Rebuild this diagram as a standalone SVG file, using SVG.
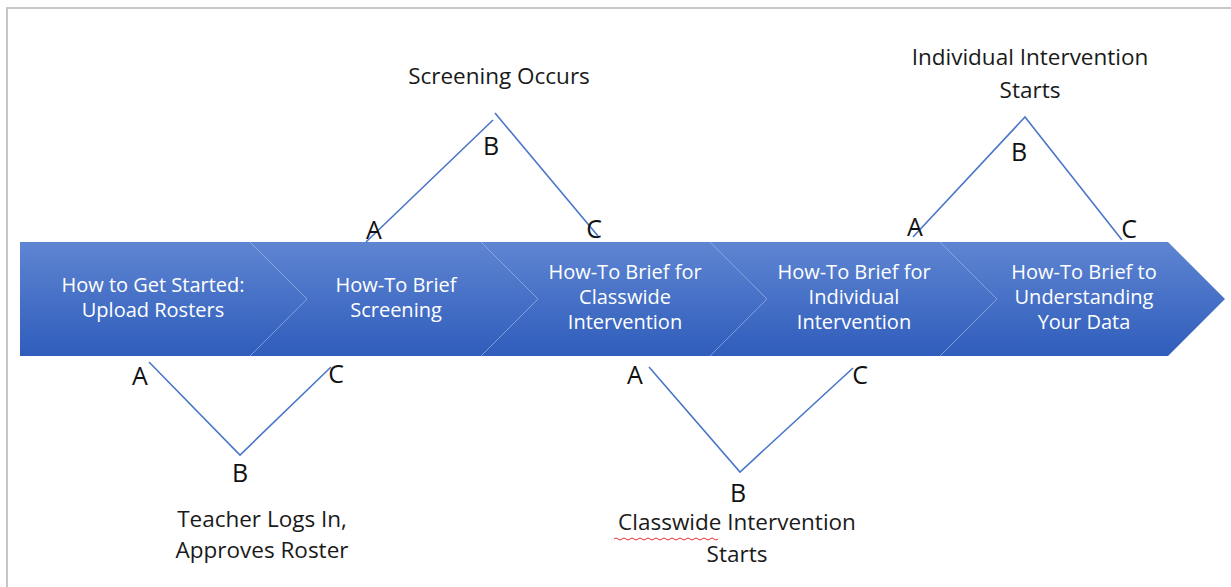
<svg xmlns="http://www.w3.org/2000/svg" width="1231" height="587" viewBox="0 0 1231 587">
  <defs>
    <linearGradient id="bodyFill" x1="0" y1="0" x2="0" y2="1">
      <stop offset="0" stop-color="#5f85d2"/>
      <stop offset="1" stop-color="#2f5dbb"/>
    </linearGradient>
    <style>
      .frame { fill: none; stroke: #c6c6c6; stroke-width: 2; }
      .sep { fill: none; stroke: #9fb6e6; stroke-width: 1; opacity: 0.7; }
      .step { font-family: "Open Sans", "Liberation Sans", sans-serif; font-size: 20px; fill: #ffffff; text-anchor: middle; }
      .pt { font-family: "Open Sans", "Liberation Sans", sans-serif; font-size: 25px; fill: #111111; text-anchor: middle; }
      .note { font-family: "Open Sans", "Liberation Sans", sans-serif; font-size: 22.5px; fill: #1a1a1a; text-anchor: middle; }
      .link { fill: none; stroke: #4a76c8; stroke-width: 1.6; }
      .squiggle { fill: none; stroke: #e03030; stroke-width: 1; }
    </style>
  </defs>

  <rect width="1231" height="587" fill="#ffffff"/>
  <path class="frame" d="M7 587 V8 H1231"/>

  <!-- process arrow -->
  <g id="process-arrow">
    <polygon points="20,242 1168,242 1225,299 1168,356 20,356" fill="url(#bodyFill)"/>
    <polyline class="sep" points="250,242 307,299 250,356"/>
    <polyline class="sep" points="481,242 538,299 481,356"/>
    <polyline class="sep" points="710,242 767,299 710,356"/>
    <polyline class="sep" points="940,242 997,299 940,356"/>
  </g>

  <g id="step-upload-rosters">
    <text class="step" x="153" y="292">How to Get Started:</text>
    <text class="step" x="153" y="317">Upload Rosters</text>
  </g>
  <g id="step-screening">
    <text class="step" x="396" y="292">How-To Brief</text>
    <text class="step" x="396" y="317">Screening</text>
  </g>
  <g id="step-classwide">
    <text class="step" x="625" y="279">How-To Brief for</text>
    <text class="step" x="625" y="304">Classwide</text>
    <text class="step" x="625" y="329">Intervention</text>
  </g>
  <g id="step-individual">
    <text class="step" x="854" y="279">How-To Brief for</text>
    <text class="step" x="854" y="304">Individual</text>
    <text class="step" x="854" y="329">Intervention</text>
  </g>
  <g id="step-data">
    <text class="step" x="1084" y="279">How-To Brief to</text>
    <text class="step" x="1084" y="304">Understanding</text>
    <text class="step" x="1084" y="329">Your Data</text>
  </g>

  <!-- A-B-C connector paths -->
  <g id="connectors">
    <polyline class="link" points="149,362 240,455 331,367"/>
    <line class="link" x1="366" y1="242" x2="493" y2="120"/>
    <line class="link" x1="495" y1="113" x2="598" y2="236"/>
    <polyline class="link" points="649,367 740,472 853,368"/>
    <polyline class="link" points="913,237 1025,117 1122,240"/>
  </g>

  <g id="phase-teacher-login">
    <text class="pt" x="140" y="385">A</text>
    <text class="pt" x="240" y="482">B</text>
    <text class="pt" x="336" y="383">C</text>
    <text class="note" x="262" y="527">Teacher Logs In,</text>
    <text class="note" x="262" y="558">Approves Roster</text>
  </g>

  <g id="phase-screening">
    <text class="pt" x="374" y="239">A</text>
    <text class="pt" x="491" y="155">B</text>
    <text class="pt" x="594" y="238">C</text>
    <text class="note" x="499" y="84">Screening Occurs</text>
  </g>

  <g id="phase-classwide">
    <text class="pt" x="635" y="384">A</text>
    <text class="pt" x="738" y="502">B</text>
    <text class="pt" x="860" y="384">C</text>
    <text class="note" x="737" y="530">Classwide Intervention</text>
    <text class="note" x="737" y="562">Starts</text>
    <!-- spell-check underline under "Classwide" -->
    <path class="squiggle" d="M614 539 q2 -2 4 0 t4 0 t4 0 t4 0 t4 0 t4 0 t4 0 t4 0 t4 0 t4 0 t4 0 t4 0 t4 0 t4 0 t4 0 t4 0 t4 0 t4 0 t4 0 t4 0 t4 0 t4 0 t4 0 t4 0 t4 0 t4 0"/>
  </g>

  <g id="phase-individual">
    <text class="pt" x="915" y="236">A</text>
    <text class="pt" x="1019" y="161">B</text>
    <text class="pt" x="1129" y="238">C</text>
    <text class="note" x="1030" y="65">Individual Intervention</text>
    <text class="note" x="1030" y="98">Starts</text>
  </g>
</svg>
